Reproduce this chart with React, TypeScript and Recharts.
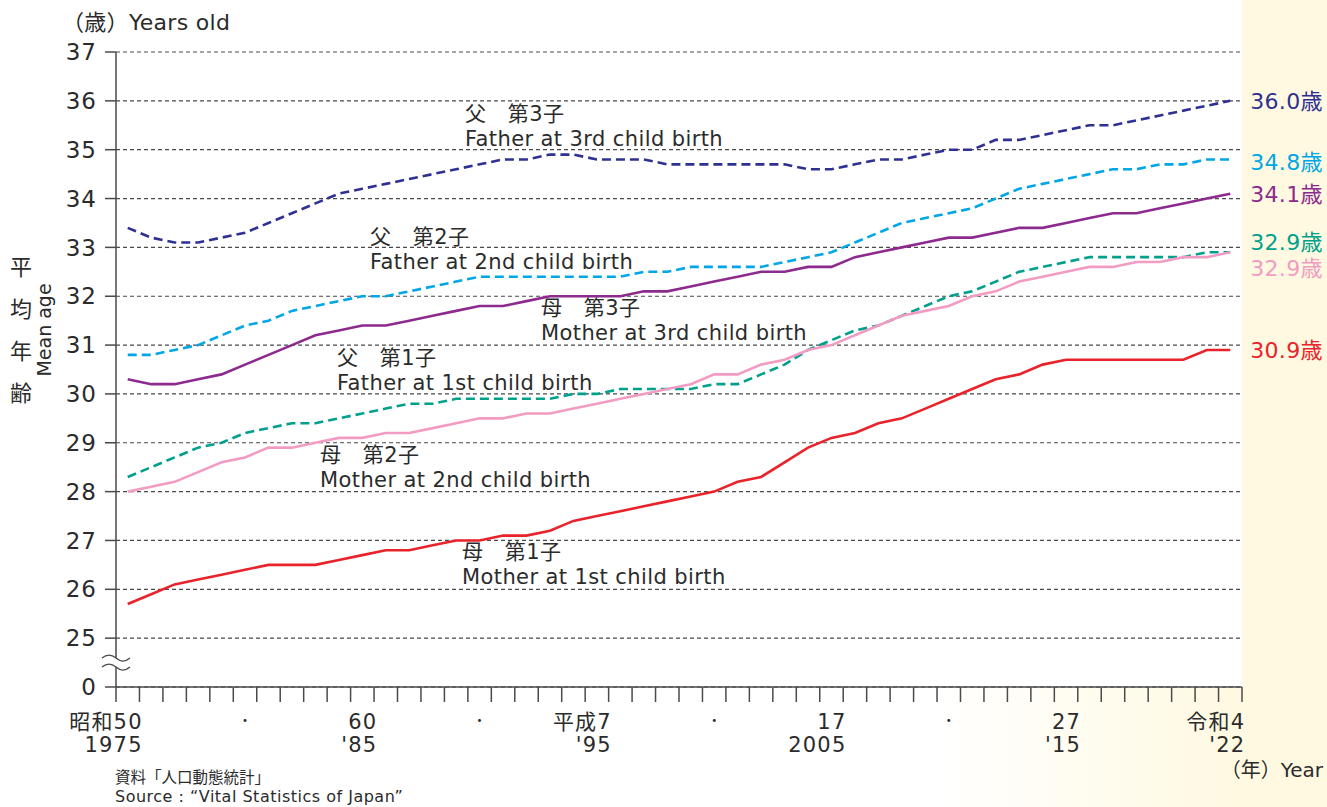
import React from 'react';
import { LineChart, Line, XAxis, YAxis, CartesianGrid, ReferenceDot } from 'recharts';

// ---------- data ----------
const years = [
  1975, 1976, 1977, 1978, 1979, 1980, 1981, 1982, 1983, 1984,
  1985, 1986, 1987, 1988, 1989, 1990, 1991, 1992, 1993, 1994,
  1995, 1996, 1997, 1998, 1999, 2000, 2001, 2002, 2003, 2004,
  2005, 2006, 2007, 2008, 2009, 2010, 2011, 2012, 2013, 2014,
  2015, 2016, 2017, 2018, 2019, 2020, 2021, 2022,
];

const fatherThird = [
  33.4, 33.2, 33.1, 33.1, 33.2, 33.3, 33.5, 33.7, 33.9, 34.1,
  34.2, 34.3, 34.4, 34.5, 34.6, 34.7, 34.8, 34.8, 34.9, 34.9,
  34.8, 34.8, 34.8, 34.7, 34.7, 34.7, 34.7, 34.7, 34.7, 34.6,
  34.6, 34.7, 34.8, 34.8, 34.9, 35.0, 35.0, 35.2, 35.2, 35.3,
  35.4, 35.5, 35.5, 35.6, 35.7, 35.8, 35.9, 36.0,
];

const fatherSecond = [
  30.8, 30.8, 30.9, 31.0, 31.2, 31.4, 31.5, 31.7, 31.8, 31.9,
  32.0, 32.0, 32.1, 32.2, 32.3, 32.4, 32.4, 32.4, 32.4, 32.4,
  32.4, 32.4, 32.5, 32.5, 32.6, 32.6, 32.6, 32.6, 32.7, 32.8,
  32.9, 33.1, 33.3, 33.5, 33.6, 33.7, 33.8, 34.0, 34.2, 34.3,
  34.4, 34.5, 34.6, 34.6, 34.7, 34.7, 34.8, 34.8,
];

const motherThird = [
  30.3, 30.2, 30.2, 30.3, 30.4, 30.6, 30.8, 31.0, 31.2, 31.3,
  31.4, 31.4, 31.5, 31.6, 31.7, 31.8, 31.8, 31.9, 32.0, 32.0,
  32.0, 32.0, 32.1, 32.1, 32.2, 32.3, 32.4, 32.5, 32.5, 32.6,
  32.6, 32.8, 32.9, 33.0, 33.1, 33.2, 33.2, 33.3, 33.4, 33.4,
  33.5, 33.6, 33.7, 33.7, 33.8, 33.9, 34.0, 34.1,
];

const fatherFirst = [
  28.3, 28.5, 28.7, 28.9, 29.0, 29.2, 29.3, 29.4, 29.4, 29.5,
  29.6, 29.7, 29.8, 29.8, 29.9, 29.9, 29.9, 29.9, 29.9, 30.0,
  30.0, 30.1, 30.1, 30.1, 30.1, 30.2, 30.2, 30.4, 30.6, 30.9,
  31.1, 31.3, 31.4, 31.6, 31.8, 32.0, 32.1, 32.3, 32.5, 32.6,
  32.7, 32.8, 32.8, 32.8, 32.8, 32.8, 32.9, 32.9,
];

const motherSecond = [
  28.0, 28.1, 28.2, 28.4, 28.6, 28.7, 28.9, 28.9, 29.0, 29.1,
  29.1, 29.2, 29.2, 29.3, 29.4, 29.5, 29.5, 29.6, 29.6, 29.7,
  29.8, 29.9, 30.0, 30.1, 30.2, 30.4, 30.4, 30.6, 30.7, 30.9,
  31.0, 31.2, 31.4, 31.6, 31.7, 31.8, 32.0, 32.1, 32.3, 32.4,
  32.5, 32.6, 32.6, 32.7, 32.7, 32.8, 32.8, 32.9,
];

const motherFirst = [
  25.7, 25.9, 26.1, 26.2, 26.3, 26.4, 26.5, 26.5, 26.5, 26.6,
  26.7, 26.8, 26.8, 26.9, 27.0, 27.0, 27.1, 27.1, 27.2, 27.4,
  27.5, 27.6, 27.7, 27.8, 27.9, 28.0, 28.2, 28.3, 28.6, 28.9,
  29.1, 29.2, 29.4, 29.5, 29.7, 29.9, 30.1, 30.3, 30.4, 30.6,
  30.7, 30.7, 30.7, 30.7, 30.7, 30.7, 30.9, 30.9,
];

// x axis labels
const xLabelYears = [1975, 1980, 1985, 1990, 1995, 2000, 2005, 2010, 2015, 2022];
const xEraLabels = ['昭和50', '・', '60', '・', '平成7', '・', '17', '・', '27', '令和4'];
const xYearLabels = ['1975', '', "'85", '', "'95", '', '2005', '', "'15", "'22"];

// y axis ticks (24 is drawn as the broken-axis "0")
const yTicks = [24, 25, 26, 27, 28, 29, 30, 31, 32, 33, 34, 35, 36, 37];
const yBreakValue = 24;
const yBreakLabel = '0';

// series names
const seriesKeys = ['fatherThird', 'fatherSecond', 'motherThird', 'fatherFirst', 'motherSecond', 'motherFirst'];
const seriesValues = [fatherThird, fatherSecond, motherThird, fatherFirst, motherSecond, motherFirst];
const seriesNamesJa = ['父　第3子', '父　第2子', '母　第3子', '父　第1子', '母　第2子', '母　第1子'];
const seriesNamesEn = [
  'Father at 3rd child birth',
  'Father at 2nd child birth',
  'Mother at 3rd child birth',
  'Father at 1st child birth',
  'Mother at 2nd child birth',
  'Mother at 1st child birth',
];

// ---------- styles ----------
const FONT = '"DejaVu Sans", "Noto Sans CJK JP", sans-serif';
const TEXT = '#2b2b2b';
const AXIS = '#4a4a4a';
const YELLOW = '#FFF9E1';

const seriesColors = ['#2E3192', '#00A6E6', '#8C2A8E', '#00A08C', '#F29CC3', '#E8232B'];
const seriesDash = ['9 5', '9 5', undefined, '9 5', undefined, undefined];
const endLabelDy = [0, 3, 0, -10, 16, 0];
// annotation text positions [x, baseline of english line]
const annotationPos = [
  [465, 146],
  [370, 269],
  [541, 340],
  [337, 390],
  [320, 487],
  [462, 584],
];
const ANNOT_FONT = 21;
const ANNOT_GAP = 25;

const data = years.map((year, i) => {
  const row: any = { year };
  seriesKeys.forEach((k, j) => {
    row[k] = seriesValues[j][i];
  });
  return row;
});

const xBoundaries = [...years.map((y) => y - 0.5), years[years.length - 1] + 0.5];
const xTicks = [...xBoundaries, ...xLabelYears];

const XTick = (props: any) => {
  const { x, y, payload } = props;
  const v = payload.value;
  if (!Number.isInteger(v)) {
    return <line x1={x} x2={x} y1={y} y2={y + 15} stroke={AXIS} strokeWidth={1.5} />;
  }
  const idx = xLabelYears.indexOf(v);
  if (idx < 0) return null;
  const era = xEraLabels[idx];
  const yr = xYearLabels[idx];
  if (!yr) {
    return (
      <text x={x} y={y + 33} dy="0.35em" textAnchor="middle" fill={TEXT} fontSize={14} fontFamily={FONT}>
        {era}
      </text>
    );
  }
  return (
    <g fill={TEXT} fontFamily={FONT} fontSize={21} letterSpacing={1.2}>
      <text x={x + 15} y={y + 42} textAnchor="end">{era}</text>
      <text x={x + 15} y={y + 65} textAnchor="end">{yr}</text>
    </g>
  );
};

const BreakMark = (props: any) => {
  const { cx, cy } = props;
  const w = (yy: number) => `M${cx - 14},${yy} q7,-6 14,0 t14,0`;
  return (
    <g>
      <rect x={cx - 3} y={cy - 4.5} width={6} height={9} fill="#fff" />
      <path d={w(cy - 4.5)} fill="none" stroke={AXIS} strokeWidth={1.3} />
      <path d={w(cy + 4.5)} fill="none" stroke={AXIS} strokeWidth={1.3} />
    </g>
  );
};

const makeEndLabel = (color: string, dy: number) => (props: any) => {
  const { x, y, index, value } = props;
  if (index !== years.length - 1) return null;
  return (
    <text x={x + 20} y={y + dy} dy="0.36em" fill={color} fontSize={22} letterSpacing={0.3} fontFamily={FONT}>
      {Number(value).toFixed(1)}歳
    </text>
  );
};

export default function App() {
  return (
    <div
      style={{
        position: 'absolute',
        left: 0,
        top: 0,
        width: 1327,
        height: 807,
        overflow: 'hidden',
        background: `linear-gradient(to right, #ffffff 0px, #ffffff 930px, ${YELLOW} 1242px, ${YELLOW} 1327px)`,
      }}
    >
      <div style={{ position: 'absolute', left: 0, top: 0, width: 1242, height: 688, background: '#fff' }} />
      <div style={{ position: 'absolute', left: 0, top: 0 }}>
        <LineChart width={1327} height={807} data={data} margin={{ top: 52, right: 85, bottom: 50, left: 0 }}>
          <CartesianGrid vertical={false} stroke={AXIS} strokeDasharray="4 3" strokeWidth={1.2} />
          <XAxis
            dataKey="year"
            type="number"
            domain={[xBoundaries[0], xBoundaries[xBoundaries.length - 1]]}
            ticks={xTicks}
            interval={0}
            height={70}
            tickSize={0}
            tickMargin={0}
            tickLine={false}
            axisLine={{ stroke: AXIS, strokeWidth: 1.5 }}
            tick={<XTick />}
            allowDataOverflow
          />
          <YAxis
            type="number"
            domain={[yTicks[0], yTicks[yTicks.length - 1]]}
            ticks={yTicks}
            interval={0}
            width={116}
            tickSize={11}
            tickMargin={8}
            allowDataOverflow
            tickFormatter={(v: number) => (v === yBreakValue ? yBreakLabel : String(v))}
            axisLine={{ stroke: AXIS, strokeWidth: 1.5 }}
            tickLine={{ stroke: AXIS, strokeWidth: 1.5 }}
            tick={{ fill: TEXT, fontSize: 23, fontFamily: FONT, letterSpacing: 1 }}
          />
          {seriesKeys.map((k, j) => (
            <Line
              key={k}
              dataKey={k}
              type="linear"
              stroke={seriesColors[j]}
              strokeWidth={2.6}
              strokeDasharray={seriesDash[j]}
              dot={false}
              activeDot={false}
              isAnimationActive={false}
              label={makeEndLabel(seriesColors[j], endLabelDy[j])}
            />
          ))}
          <ReferenceDot
            x={xBoundaries[0]}
            y={(yTicks[0] + yTicks[1]) / 2}
            ifOverflow="visible"
            shape={<BreakMark />}
          />
        </LineChart>
      </div>
      <svg
        width={1327}
        height={807}
        style={{ position: 'absolute', left: 0, top: 0, pointerEvents: 'none' }}
        fontFamily={FONT}
      >
        <text x={62} y={30} fontSize={22} letterSpacing={0.3} fill={TEXT}>（歳）Years old</text>
        {['平', '均', '年', '齢'].map((c, i) => (
          <text key={c} x={21} y={267 + i * 42} dy="0.36em" textAnchor="middle" fontSize={22} fill={TEXT}>
            {c}
          </text>
        ))}
        <text
          x={44}
          y={330}
          transform="rotate(-90 44 330)"
          textAnchor="middle"
          dy="0.36em"
          fontSize={19}
          fill={TEXT}
        >
          Mean age
        </text>
        {annotationPos.map((p, j) => (
          <g key={j} fill={TEXT} fontSize={ANNOT_FONT} letterSpacing={0.4}>
            <text x={p[0]} y={p[1] - ANNOT_GAP}>{seriesNamesJa[j]}</text>
            <text x={p[0]} y={p[1]}>{seriesNamesEn[j]}</text>
          </g>
        ))}
        <text x={1323} y={777} textAnchor="end" fontSize={20} fill={TEXT}>（年）Year</text>
        <text x={115} y={783} fontSize={15.5} fill={TEXT}>資料「人口動態統計」</text>
        <text x={115} y={802} fontSize={16} letterSpacing={0.5} fill={TEXT}>Source : “Vital Statistics of Japan”</text>
      </svg>
    </div>
  );
}
